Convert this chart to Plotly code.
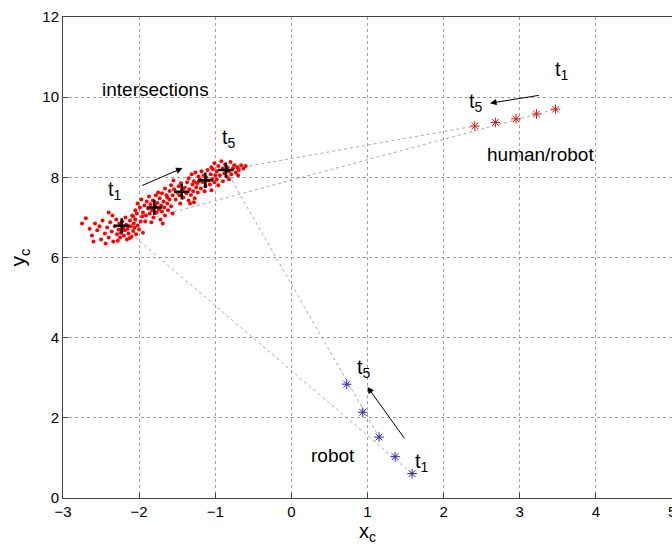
import plotly.graph_objects as go

# ---- data ----
cloud_x = [-2.70,-2.62,-2.58,-2.55,-2.50,-2.48,-2.45,-2.42,-2.40,-2.38,-2.36,-2.34,-2.32,-2.30,-2.29,-2.27,-2.26,-2.25,-2.24,-2.22,-2.21,-2.20,-2.19,-2.18,-2.17,-2.16,-2.15,-2.14,-2.12,-2.11,-2.10,-2.09,-2.08,-2.07,-2.06,-2.05,-2.04,-2.03,-2.02,-2.00,-1.98,-1.96,-1.95,-2.35,-2.52,-2.60,-2.44,-2.28,-2.13,-2.40,-2.65,-2.75,
           -2.05,-2.02,-1.99,-1.97,-1.95,-1.93,-1.91,-1.90,-1.88,-1.87,-1.86,-1.85,-1.83,-1.82,-1.81,-1.79,-1.78,-1.77,-1.76,-1.74,-1.73,-1.72,-1.71,-1.70,-1.68,-1.67,-1.66,-1.64,-1.63,-1.62,-1.60,-1.58,-1.56,-1.92,-2.08,-1.84,-1.69,-1.75,
           -1.70,-1.66,-1.63,-1.60,-1.58,-1.56,-1.54,-1.52,-1.50,-1.48,-1.47,-1.45,-1.43,-1.42,-1.40,-1.38,-1.37,-1.35,-1.34,-1.32,-1.30,-1.29,-1.27,-1.25,-1.23,-1.21,-1.46,-1.33,-1.55,-1.28,
           -1.35,-1.31,-1.28,-1.26,-1.24,-1.22,-1.20,-1.18,-1.16,-1.15,-1.13,-1.12,-1.10,-1.09,-1.07,-1.06,-1.04,-1.03,-1.01,-1.00,-0.98,-0.96,-1.14,-1.05,-1.19,
           -1.05,-1.01,-0.98,-0.96,-0.94,-0.92,-0.90,-0.88,-0.87,-0.85,-0.84,-0.82,-0.80,-0.79,-0.77,-0.75,-0.73,-0.71,-0.69,-0.66,-0.63,-0.60,-0.82,-0.70,-0.90]
cloud_y = [6.98,6.55,6.85,6.68,6.45,6.92,6.60,6.75,6.50,6.88,6.65,6.40,6.78,6.95,6.58,6.70,6.85,6.50,6.62,6.90,6.75,6.55,6.68,7.00,6.82,6.45,6.72,6.60,6.92,6.78,6.52,7.05,6.66,6.85,6.74,6.95,6.58,7.10,6.80,6.70,6.90,7.02,6.62,7.05,6.78,6.40,6.35,6.42,6.48,7.12,6.72,6.85,
           7.18,7.35,7.25,7.45,7.12,7.30,7.05,7.40,7.22,7.52,7.10,7.33,7.18,7.42,7.00,7.28,7.55,7.12,7.36,7.20,7.48,6.95,7.30,7.15,7.40,7.25,7.05,7.55,7.35,7.18,7.45,7.28,7.10,6.90,7.02,6.88,6.85,7.62,
           7.60,7.72,7.50,7.66,7.80,7.55,7.70,7.45,7.62,7.78,7.55,7.85,7.68,7.50,7.74,7.60,7.88,7.42,7.70,7.56,7.82,7.65,7.48,7.75,7.62,7.90,7.35,7.35,7.92,7.38,
           7.98,8.08,7.90,8.12,7.85,8.02,7.95,8.15,7.88,8.05,7.78,8.00,8.18,7.92,7.82,8.08,7.96,8.20,7.88,8.05,7.95,7.80,7.65,7.68,7.72,
           8.25,8.35,8.15,8.28,8.05,8.40,8.22,8.10,8.32,8.02,8.25,8.15,8.38,8.08,8.22,8.30,8.12,8.25,8.18,8.30,8.22,8.28,7.95,8.05,7.90]

inter_x = [-2.23, -1.80, -1.44, -1.13, -0.86]
inter_y = [6.79, 7.25, 7.64, 7.93, 8.18]

hr_x = [3.47, 3.22, 2.95, 2.68, 2.41]   # t1..t5
hr_y = [9.70, 9.58, 9.46, 9.37, 9.28]

rb_x = [1.586, 1.363, 1.152, 0.937, 0.727]  # t1..t5
rb_y = [0.61, 1.03, 1.52, 2.14, 2.84]

fig = go.Figure()

dot_line = dict(color="#a8a8a8", width=1, dash="dot")
# rays
fig.add_trace(go.Scatter(x=[inter_x[0], hr_x[0]], y=[inter_y[0], hr_y[0]], mode="lines", line=dot_line, hoverinfo="skip"))
fig.add_trace(go.Scatter(x=[inter_x[4], hr_x[4]], y=[inter_y[4], hr_y[4]], mode="lines", line=dot_line, hoverinfo="skip"))
fig.add_trace(go.Scatter(x=[inter_x[0], rb_x[0]], y=[inter_y[0], rb_y[0]], mode="lines", line=dot_line, hoverinfo="skip"))
fig.add_trace(go.Scatter(x=[inter_x[4], rb_x[2]], y=[inter_y[4], rb_y[2]], mode="lines", line=dot_line, hoverinfo="skip"))

fig.add_trace(go.Scatter(x=cloud_x, y=cloud_y, mode="markers",
                         marker=dict(color="#ff0000", size=4, line=dict(width=0))))
fig.add_trace(go.Scatter(x=inter_x, y=inter_y, mode="markers",
                         marker=dict(symbol="cross-thin", size=11, line=dict(color="black", width=2.5), color="black")))
fig.add_trace(go.Scatter(x=hr_x, y=hr_y, mode="markers",
                         marker=dict(symbol="asterisk-open", size=8, color="#d01818", line=dict(color="#d01818", width=1))))
fig.add_trace(go.Scatter(x=rb_x, y=rb_y, mode="markers",
                         marker=dict(symbol="asterisk-open", size=8, color="#2828a8", line=dict(color="#2828a8", width=1))))

tfont = dict(family="Liberation Sans, Arial", size=20, color="black")
lfont = dict(family="Liberation Sans, Arial", size=19, color="black")
texts = [
    ("intersections", -1.79, 10.2, lfont),
    ("human/robot", 3.27, 8.58, lfont),
    ("robot", 0.55, 1.05, lfont),
    ("t<sub>1</sub>", -2.32, 7.66, tfont),
    ("t<sub>5</sub>", -0.82, 8.98, tfont),
    ("t<sub>5</sub>", 2.43, 9.86, tfont),
    ("t<sub>1</sub>", 3.55, 10.66, tfont),
    ("t<sub>5</sub>", 0.95, 3.24, tfont),
    ("t<sub>1</sub>", 1.72, 0.89, tfont),
]
for t, x, y, f in texts:
    fig.add_annotation(text=t, x=x, y=y, xref="x", yref="y", showarrow=False, font=f)

# the clipped "5" tick label at the right edge
axfont = dict(family="Liberation Sans, Arial", size=15, color="black")
fig.add_annotation(text="5", x=5, y=0, xref="x", yref="paper", yanchor="top", yshift=-3,
                   showarrow=False, font=axfont)

arrows = [((-1.98, 7.78), (-1.43, 8.23)),
          ((3.27, 10.05), (2.61, 9.85)),
          ((1.50, 1.45), (1.00, 2.77))]
for (tx, ty), (hx, hy) in arrows:
    fig.add_annotation(x=hx, y=hy, ax=tx, ay=ty, xref="x", yref="y", axref="x", ayref="y",
                       text="", showarrow=True, arrowhead=2, arrowsize=1.3, arrowwidth=1, arrowcolor="black")

fig.update_xaxes(range=[-3, 5], dtick=1, tick0=-3, showgrid=True, gridcolor="#a0a0a0", griddash="dot", gridwidth=1,
                 zeroline=False, showline=True, linecolor="#444", linewidth=1, mirror=True,
                 ticks="inside", ticklen=5, tickcolor="#444", tickfont=axfont,
                 title=dict(text="x<sub>c</sub>", font=dict(family="Liberation Sans, Arial", size=20, color="black"), standoff=2))
fig.update_yaxes(range=[0, 12], dtick=2, showgrid=True, gridcolor="#a0a0a0", griddash="dot", gridwidth=1,
                 zeroline=False, showline=True, linecolor="#444", linewidth=1, mirror=True,
                 ticks="inside", ticklen=5, tickcolor="#444", tickfont=axfont,
                 title=dict(text="y<sub>c</sub>", font=dict(family="Liberation Sans, Arial", size=21, color="black"), standoff=10))
fig.update_layout(width=672, height=545, margin=dict(l=63, r=0, t=17, b=47),
                  plot_bgcolor="white", paper_bgcolor="white", showlegend=False)
fig.write_html("out.html")
